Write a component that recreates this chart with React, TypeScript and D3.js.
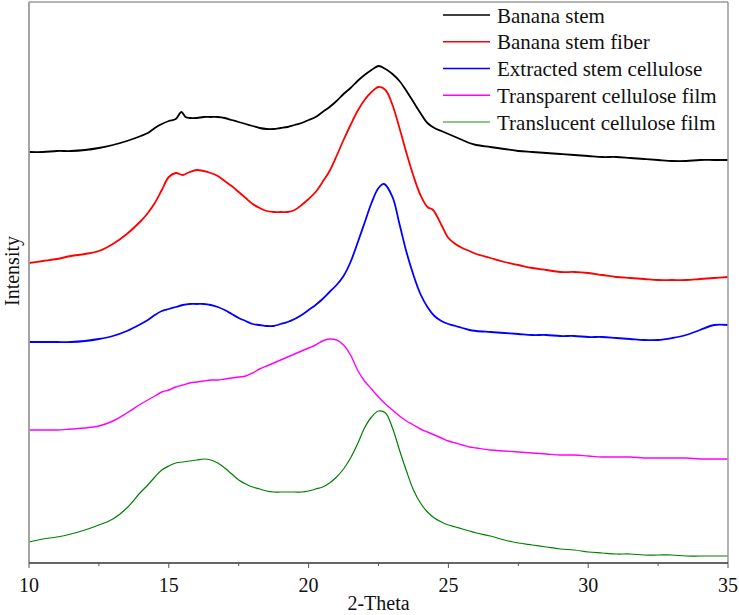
import * as d3 from 'd3'

type Pt = [number, number]

// intensity in arbitrary units (offset stacked patterns)
const bananaStem: Pt[] = [
  [10, 411], [10.5, 411], [11, 412], [11.5, 412], [12, 413], [12.5, 415], [13, 418], [13.5, 422], [14, 427],
  [14.25, 430], [14.5, 435], [14.75, 439], [15, 442], [15.25, 444], [15.45, 451], [15.6, 446], [15.75, 445], [16, 445],
  [16.25, 446], [16.5, 446], [16.75, 446], [17, 445], [17.25, 443], [17.5, 441], [17.75, 439], [18, 437],
  [18.25, 435], [18.5, 434], [18.75, 434], [19, 435], [19.25, 436], [19.5, 438], [19.75, 440], [20, 443],
  [20.25, 446], [20.5, 451], [20.75, 456], [21, 462], [21.25, 469], [21.5, 475], [21.75, 482], [22, 488],
  [22.25, 493], [22.5, 497], [22.75, 494], [23, 489], [23.25, 482], [23.5, 472], [23.75, 461], [24, 450],
  [24.25, 440], [24.5, 435], [24.75, 432], [25, 429], [25.25, 426], [25.5, 423], [25.75, 420], [26, 418],
  [26.5, 416], [27, 414], [27.5, 412], [28, 411], [28.5, 410], [29, 409], [29.5, 408], [30, 407], [30.5, 406],
  [31, 406], [31.5, 405], [32, 404], [32.5, 403], [33, 402], [33.5, 402], [34, 403], [34.5, 403], [35, 403],
]

const bananaStemFiber: Pt[] = [
  [10, 300], [10.5, 302], [11, 304], [11.5, 307], [12, 309], [12.5, 312], [13, 319], [13.5, 329], [14, 342],
  [14.25, 350], [14.5, 360], [14.75, 373], [15, 386], [15.25, 390], [15.5, 388], [15.75, 391], [16, 393],
  [16.25, 392], [16.5, 390], [16.75, 387], [17, 382], [17.25, 377], [17.5, 371], [17.75, 365], [18, 359],
  [18.25, 355], [18.5, 352], [18.75, 351], [19, 351], [19.25, 351], [19.5, 353], [19.75, 358], [20, 364],
  [20.25, 371], [20.5, 381], [20.75, 392], [21, 407], [21.25, 423], [21.5, 438], [21.75, 452], [22, 463],
  [22.25, 471], [22.5, 476], [22.75, 473], [23, 458], [23.25, 435], [23.5, 410], [23.75, 387], [24, 368],
  [24.25, 356], [24.45, 353], [24.75, 338], [25, 325], [25.25, 319], [25.5, 315], [25.75, 312], [26, 309],
  [26.5, 305], [27, 301], [27.5, 298], [28, 295], [28.5, 293], [29, 291], [29.5, 291], [30, 290], [30.5, 288],
  [31, 286], [31.5, 285], [32, 284], [32.5, 283], [33, 283], [33.5, 283], [34, 284], [34.5, 285], [35, 286],
]

const extractedCellulose: Pt[] = [
  [10, 221], [10.5, 221], [11, 221], [11.5, 221], [12, 222], [12.5, 224], [13, 227], [13.5, 232], [14, 239],
  [14.25, 243], [14.5, 248], [14.75, 252], [15, 254], [15.25, 256], [15.5, 258], [15.75, 259], [16, 259],
  [16.25, 259], [16.5, 258], [16.75, 256], [17, 253], [17.25, 249], [17.5, 245], [17.75, 242], [18, 239],
  [18.25, 238], [18.5, 237], [18.75, 237], [19, 239], [19.25, 241], [19.5, 244], [19.75, 248], [20, 253],
  [20.25, 258], [20.5, 264], [20.75, 271], [21, 278], [21.25, 287], [21.5, 301], [21.75, 320], [22, 340],
  [22.25, 360], [22.5, 375], [22.7, 379], [23, 366], [23.25, 339], [23.5, 311], [23.75, 288], [24, 269],
  [24.25, 256], [24.5, 247], [24.75, 242], [25, 239], [25.25, 237], [25.5, 235], [25.75, 233], [26, 232],
  [26.5, 231], [27, 230], [27.5, 229], [28, 228], [28.5, 228], [29, 227], [29.5, 227], [30, 226], [30.5, 226],
  [31, 225], [31.5, 224], [32, 223], [32.5, 223], [33, 225], [33.5, 228], [34, 233], [34.5, 238], [35, 238],
]

const transparentFilm: Pt[] = [
  [10, 133], [10.5, 133], [11, 133], [11.5, 134], [12, 135], [12.5, 137], [13, 142], [13.5, 150], [14, 159],
  [14.25, 163], [14.5, 167], [14.75, 171], [15, 173], [15.25, 176], [15.5, 178], [15.75, 180], [16, 181],
  [16.25, 182], [16.5, 183], [16.75, 183], [17, 184], [17.25, 185], [17.5, 186], [17.75, 187], [18, 190],
  [18.25, 194], [18.5, 197], [18.75, 200], [19, 203], [19.25, 206], [19.5, 209], [19.75, 212], [20, 215],
  [20.25, 218], [20.5, 222], [20.75, 224], [21, 223], [21.25, 218], [21.5, 208], [21.75, 193], [22, 182],
  [22.25, 174], [22.5, 166], [22.75, 159], [23, 153], [23.25, 147], [23.5, 142], [23.75, 138], [24, 134],
  [24.25, 131], [24.5, 128], [24.75, 125], [25, 122], [25.25, 120], [25.5, 118], [25.75, 116], [26, 115],
  [26.5, 113], [27, 112], [27.5, 111], [28, 110], [28.5, 109], [29, 108], [29.5, 108], [30, 107], [30.5, 106],
  [31, 106], [31.5, 106], [32, 105], [32.5, 105], [33, 105], [33.5, 105], [34, 104], [34.5, 104], [35, 104],
]

const translucentFilm: Pt[] = [
  [10, 21], [10.5, 24], [11, 26], [11.5, 29], [12, 33], [12.5, 38], [13, 44], [13.5, 55], [14, 71],
  [14.25, 78], [14.5, 86], [14.75, 93], [15, 97], [15.25, 100], [15.5, 101], [15.75, 102], [16, 103],
  [16.25, 104], [16.5, 103], [16.75, 100], [17, 95], [17.25, 89], [17.5, 83], [17.75, 79], [18, 76],
  [18.25, 74], [18.5, 72], [18.75, 71], [19, 71], [19.25, 71], [19.5, 71], [19.75, 71], [20, 72],
  [20.25, 74], [20.5, 76], [20.75, 80], [21, 86], [21.25, 94], [21.5, 105], [21.75, 119], [22, 135],
  [22.25, 146], [22.5, 152], [22.75, 150], [23, 135], [23.25, 113], [23.5, 92], [23.75, 73], [24, 60],
  [24.25, 51], [24.5, 45], [24.75, 41], [25, 38], [25.25, 36], [25.5, 34], [25.75, 32], [26, 30],
  [26.5, 27], [27, 23], [27.5, 20], [28, 18], [28.5, 16], [29, 14], [29.5, 13], [30, 11], [30.5, 10],
  [31, 9], [31.5, 9], [32, 8], [32.5, 8], [33, 8], [33.5, 7], [34, 7], [34.5, 7], [35, 7],
]

const seriesNames = [
  'Banana stem',
  'Banana stem fiber',
  'Extracted stem cellulose',
  'Transparent cellulose film',
  'Translucent cellulose film',
]
const seriesData = [bananaStem, bananaStemFiber, extractedCellulose, transparentFilm, translucentFilm]
const seriesColors = ['#000000', '#ff0000', '#0000ff', '#ff00ff', '#008000']
const seriesWidths = [1.8, 1.8, 1.8, 1.4, 1.2]

const xMajorTicks = [10, 15, 20, 25, 30, 35]
const xMinorTicks = [12.5, 17.5, 22.5, 27.5, 32.5]

const font = '"Liberation Serif", "Times New Roman", serif'

export default function App() {
  const width = 739
  const height = 615
  const margin = { top: 2, right: 11, bottom: 52, left: 29 }
  const innerW = width - margin.left - margin.right
  const innerH = height - margin.top - margin.bottom

  const x = d3.scaleLinear().domain([10, 35]).range([0, innerW])
  const y = d3.scaleLinear().domain([0, 561]).range([innerH, 0])

  const line = d3
    .line<Pt>()
    .x((d) => x(d[0]))
    .y((d) => y(d[1]))
    .curve(d3.curveCatmullRom.alpha(0.5))

  return (
    <svg
      width={width}
      height={height}
      style={{ position: 'absolute', left: 0, top: 0, background: '#fff' }}
      fontFamily={font}
    >
      <g transform={`translate(${margin.left},${margin.top})`}>
        {seriesData.map((s, i) => (
          <path
            key={seriesNames[i]}
            d={line(s) ?? undefined}
            fill="none"
            stroke={seriesColors[i]}
            strokeWidth={seriesWidths[i]}
            strokeLinejoin="round"
          />
        ))}

        {/* frame */}
        <line x1={0} x2={innerW} y1={0} y2={0} stroke="#9a9a9a" strokeWidth={1.5} />
        <line x1={innerW} x2={innerW} y1={0} y2={innerH} stroke="#9a9a9a" strokeWidth={1.5} />
        <line x1={0} x2={0} y1={0} y2={innerH} stroke="#9a9a9a" strokeWidth={1.8} />
        <line x1={0} x2={innerW} y1={innerH} y2={innerH} stroke="#333" strokeWidth={1.3} />

        {xMajorTicks.map((t) => (
          <g key={t} transform={`translate(${x(t)},${innerH})`}>
            <line y1={0} y2={5} stroke="#555" strokeWidth={1} />
            <text y={29} textAnchor="middle" fontSize={20} fill="#111">
              {t}
            </text>
          </g>
        ))}
        {xMinorTicks.map((t) => (
          <line key={t} x1={x(t)} x2={x(t)} y1={innerH} y2={innerH + 3} stroke="#555" strokeWidth={1} />
        ))}

        <text x={innerW / 2} y={innerH + 47} textAnchor="middle" fontSize={20} fill="#111">
          2-Theta
        </text>
        <text
          transform={`translate(${-10},${269}) rotate(-90)`}
          textAnchor="middle"
          fontSize={20}
          fill="#111"
        >
          Intensity
        </text>

        {/* legend */}
        {seriesNames.map((name, i) => (
          <g key={name} transform={`translate(${414},${13 + i * 26.75})`}>
            <line
              x1={0}
              x2={47}
              y1={0}
              y2={0}
              stroke={seriesColors[i]}
              strokeWidth={1.3}
              strokeOpacity={i === 4 ? 0.6 : 1}
            />
            <text x={54} y={7.5} fontSize={21} fill="#111">
              {name}
            </text>
          </g>
        ))}
      </g>
    </svg>
  )
}
